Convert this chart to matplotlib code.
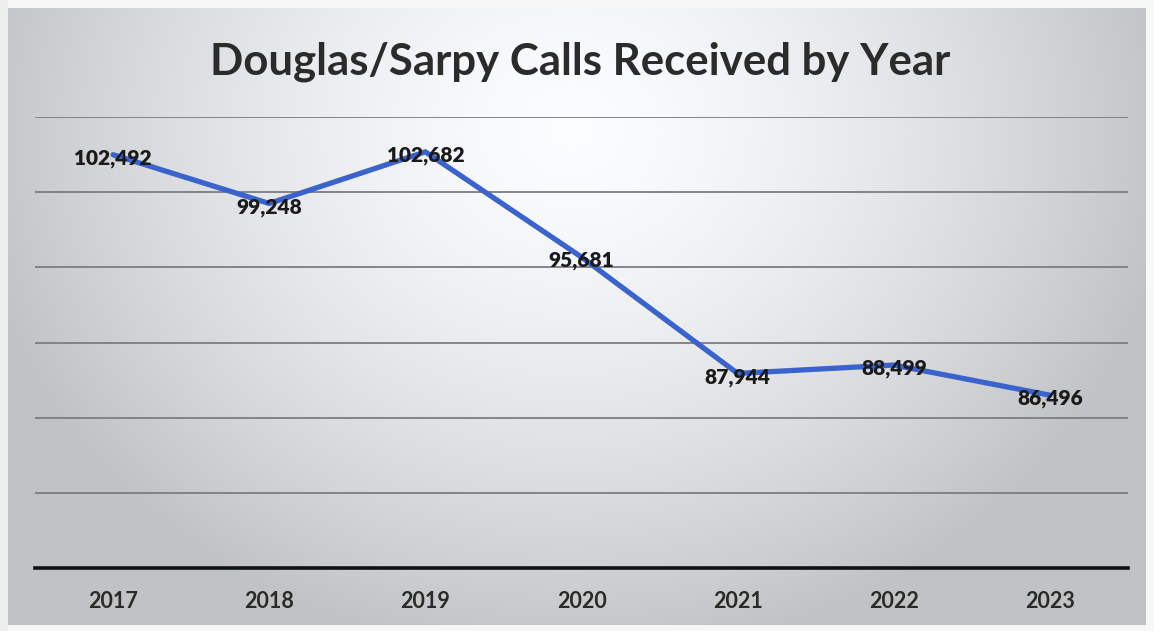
import numpy as np
import matplotlib
matplotlib.use("Agg")
import matplotlib.pyplot as plt

years = ["2017", "2018", "2019", "2020", "2021", "2022", "2023"]
calls = [102492, 99248, 102682, 95681, 87944, 88499, 86496]
title = "Douglas/Sarpy Calls Received by Year"

W, H = 1154, 631
fig = plt.figure(figsize=(W / 100, H / 100), dpi=100)

# background: radial gradient like the scanned slide
bg = fig.add_axes([0, 0, 1, 1])
yy, xx = np.mgrid[0:H, 0:W]
d = np.sqrt(((xx - 570) / 640.0) ** 2 + ((yy - 130) / 560.0) ** 2)
g = np.clip(1.0 - 0.25 * d ** 1.5, 0.77, 1.0)
img = np.dstack([g * 0.985, g * 0.99, g * 1.0])
img = np.clip(img, 0, 1)
# outer scan frame
img[:8, :, :] = 0.97
img[-6:, :, :] = 0.97
img[:, :8, :] = 0.93
img[:, -8:, :] = 0.97
bg.imshow(img, extent=[0, W, H, 0], aspect="auto", interpolation="bilinear")
bg.set_xlim(0, W)
bg.set_ylim(H, 0)
bg.axis("off")

# plot area: x 35..1128 px, y 117..568 px
ax = fig.add_axes([35 / W, 1 - 568 / H, (1128 - 35) / W, (568 - 117) / H])
ax.patch.set_alpha(0)
x = np.arange(len(years))
ax.plot(x, calls, color="#3b63cc", lw=3.8, solid_capstyle="round", zorder=3)
for xi, v in zip(x, calls):
    ax.text(xi, v - 250, f"{v:,}", ha="center", va="center", fontsize=15,
            fontweight="heavy", color="#1a1a1a", family="Lato", zorder=4)

ax.set_xlim(-0.5, len(years) - 0.5)
ax.set_ylim(75000, 105000)
ax.set_yticks(np.arange(75000, 105001, 5000))
ax.yaxis.grid(True, color="#7d7d7d", lw=1.3)
ax.set_axisbelow(True)
ax.tick_params(axis="y", left=False, labelleft=False)
ax.tick_params(axis="x", bottom=False, pad=13)
ax.set_xticks(x)
ax.set_xticklabels(years, fontsize=15.5, fontweight="bold", color="#2a2a2a", family="Lato")
for s in ["top", "right", "left"]:
    ax.spines[s].set_visible(False)
ax.spines["bottom"].set_color("#111111")
ax.spines["bottom"].set_linewidth(2.6)

fig.text(580 / W, 1 - 62 / H, title, ha="center", va="center", fontsize=31.5,
         fontweight="bold", color="#2b2b2b", family="Lato")

fig.savefig("out.png", dpi=100)
